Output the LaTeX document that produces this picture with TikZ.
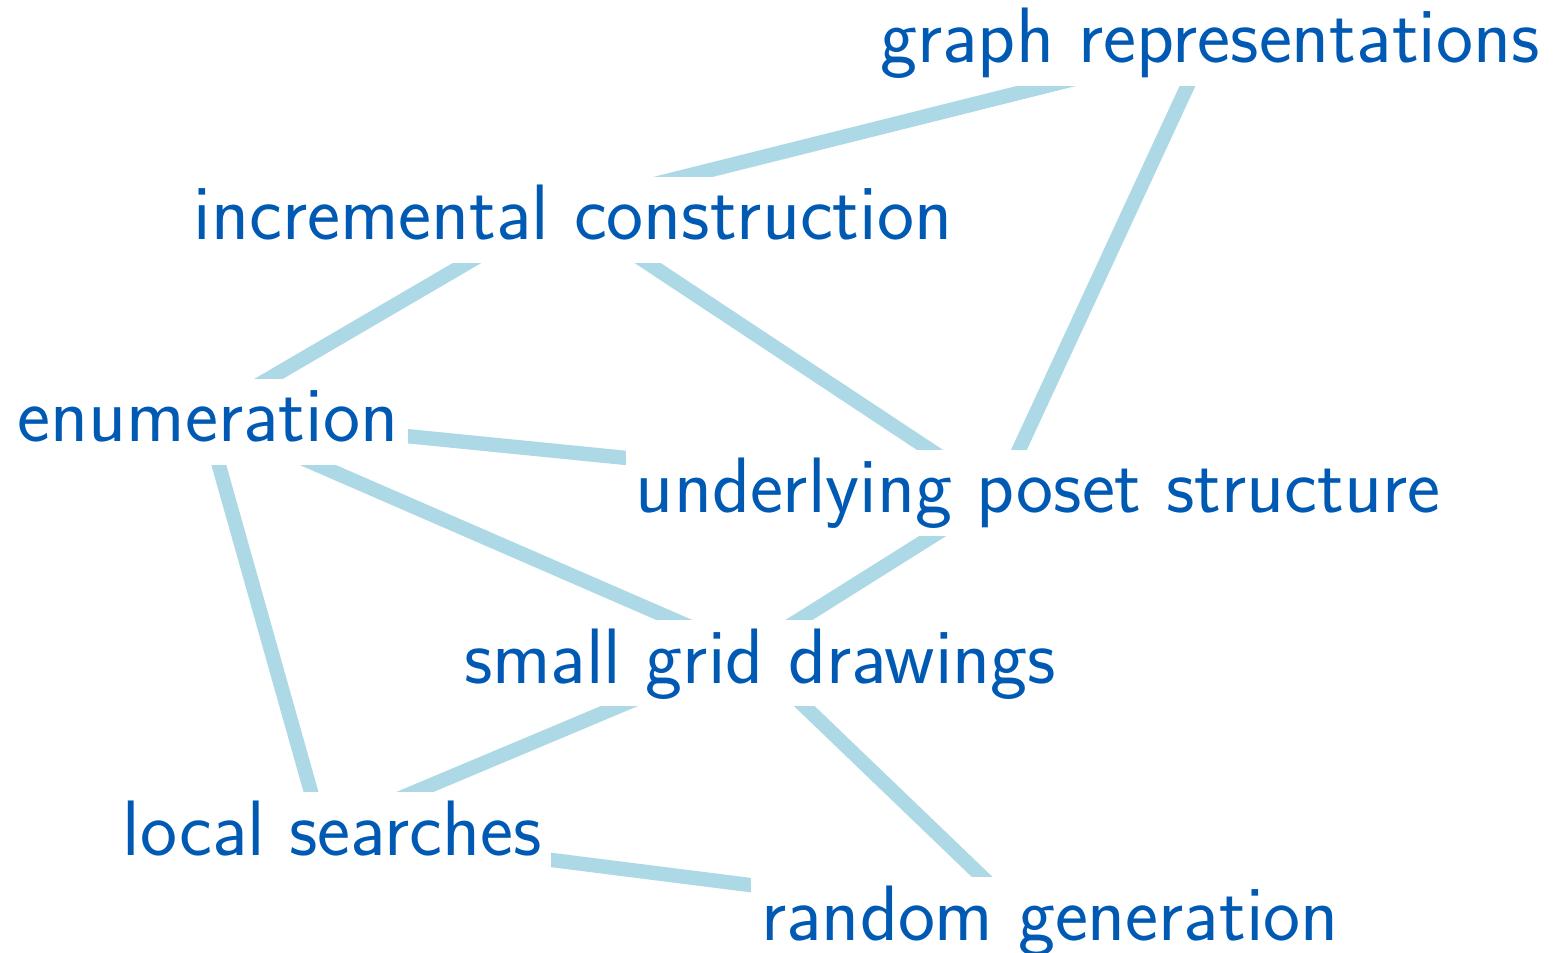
\documentclass[tikz,border=0pt]{standalone}
\usepackage{fontspec}
\usetikzlibrary{backgrounds}
\definecolor{topicblue}{RGB}{0,89,179}
\definecolor{linkblue}{RGB}{173,216,230}
\begin{document}
\begin{tikzpicture}[x=0.271pt,y=-0.271pt,
    topic/.style={fill=white, inner sep=2.7pt, text height=14.3pt, text depth=3.5pt,
      text=topicblue, anchor=base, font=\fontsize{21.3}{25}\selectfont\sffamily},
    link/.style={draw=linkblue, line width=3.9pt}]
    \useasboundingbox (0,0) rectangle (1553,953);
    % Place the topics
    \node[topic] (graph)  at (1210,63)  {graph representations};
    \node[topic] (incr)   at (573,240)  {incremental construction};
    \node[topic] (enum)   at (208,442)  {enumeration};
    \node[topic] (poset)  at (1038,513) {underlying poset structure};
    \node[topic] (grid)   at (760,683)  {small grid drawings};
    \node[topic] (local)  at (332,855)  {local searches};
    \node[topic] (random) at (1050,940) {random generation};
    % Where the links meet each topic
    \foreach \n/\dx/\dy in {graph/-4/-17, incr/-10/-33, enum/-3/-26, poset/-40/-18,
                            grid/-12/-31, local/-10/-24, random/-23/-20}
        \coordinate (\n-hub) at ([shift={(\dx,\dy)}]\n.base);
    % Links, drawn behind the topics
    \begin{scope}[on background layer]
        \foreach \a/\b in {graph/incr, graph/poset, incr/enum, incr/poset,
                           enum/poset, enum/grid, enum/local, poset/grid,
                           grid/local, grid/random, local/random} {
            \draw[link] (\a-hub) -- (\b-hub);
        }
    \end{scope}
\end{tikzpicture}
\end{document}
